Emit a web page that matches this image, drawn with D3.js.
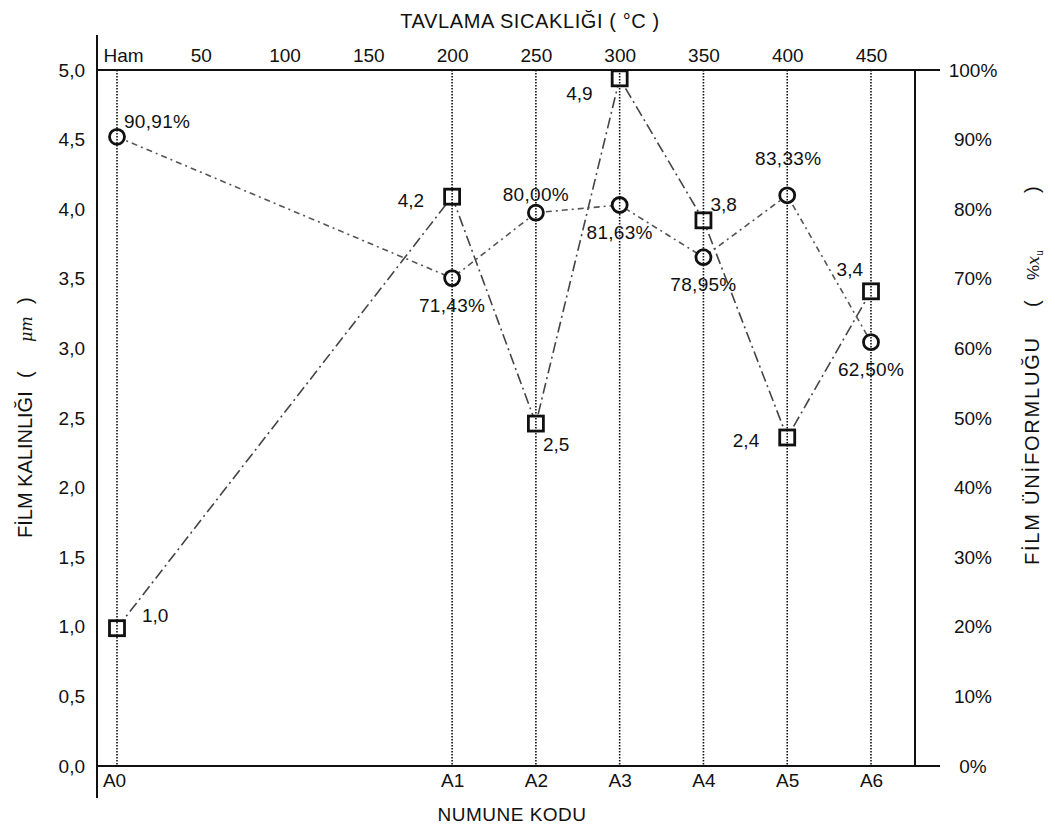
<!DOCTYPE html>
<html>
<head>
<meta charset="utf-8">
<script src="https://cdn.jsdelivr.net/npm/d3@7"></script>
<style>
  body { margin: 0; background: #fff; }
  svg text { font-family: "Liberation Sans", Arial, sans-serif; fill: #111; }
  .title { white-space: pre; }
</style>
</head>
<body>
<svg id="chart" width="1055" height="829"></svg>
<script>
// sample codes and annealing temperatures (0 = raw / "Ham")
const samples = ['A0', 'A1', 'A2', 'A3', 'A4', 'A5', 'A6'];
const temps = [0, 200, 250, 300, 350, 400, 450];

// top axis ticks
const tempTicks = [0, 50, 100, 150, 200, 250, 300, 350, 400, 450];
const tempTickLabels = ['Ham', '50', '100', '150', '200', '250', '300', '350', '400', '450'];

// film thickness (µm) as plotted, and the printed labels
const thickness = [0.99, 4.09, 2.46, 4.94, 3.92, 2.36, 3.41];
const thicknessLabels = ['1,0', '4,2', '2,5', '4,9', '3,8', '2,4', '3,4'];
const thicknessLabelSide = ['e', 'w', 'se', 'sw', 'ne', 'w', 'nw'];

// film uniformity (%) as plotted, and the printed labels
const uniformity = [90.4, 70.1, 79.5, 80.6, 73.1, 82.0, 60.9];
const uniformityLabels = ['90,91%', '71,43%', '80,00%', '81,63%', '78,95%', '83,33%', '62,50%'];
const uniformityLabelSide = ['ne', 's', 'n', 's', 's', 'nn', 's'];

// axis ticks
const leftTicks = [0, 0.5, 1, 1.5, 2, 2.5, 3, 3.5, 4, 4.5, 5];
const rightTicks = [0, 10, 20, 30, 40, 50, 60, 70, 80, 90, 100];

const svg = d3.select('#chart');
const fontSize = 19;

const x = d3.scaleLinear().domain([0, 450]).range([117, 871]);
const yL = d3.scaleLinear().domain([0, 5]).range([766, 70]);
const yR = d3.scaleLinear().domain([0, 100]).range([766, 70]);

const frame = { left: 97, right: 915, ext: 940, top: yL(5), bottom: yL(0) };

// dotted verticals at each sample
const grid = svg.append('g');

// series lines
const thickLine = d3.line().x((d, i) => x(temps[i])).y(d => yL(d));
const uniLine = d3.line().x((d, i) => x(temps[i])).y(d => yR(d));

svg.append('path')
  .datum(thickness)
  .attr('fill', 'none')
  .attr('stroke', '#444')
  .attr('stroke-width', 1.6)
  .attr('stroke-dasharray', '11,4,2,4')
  .attr('d', thickLine);

svg.append('path')
  .datum(uniformity)
  .attr('fill', 'none')
  .attr('stroke', '#555')
  .attr('stroke-width', 1.6)
  .attr('stroke-dasharray', '6,4,2,4')
  .attr('d', uniLine);

// markers
svg.append('g')
  .selectAll('rect')
  .data(thickness)
  .join('rect')
  .attr('x', (d, i) => x(temps[i]) - 7.5)
  .attr('y', d => yL(d) - 7.5)
  .attr('width', 15)
  .attr('height', 15)
  .attr('fill', '#fff')
  .attr('stroke', '#111')
  .attr('stroke-width', 2.8);

svg.append('g')
  .selectAll('circle')
  .data(uniformity)
  .join('circle')
  .attr('cx', (d, i) => x(temps[i]))
  .attr('cy', d => yR(d))
  .attr('r', 7.5)
  .attr('fill', '#fff')
  .attr('stroke', '#111')
  .attr('stroke-width', 2.8);

// dotted lines drawn over markers
grid.raise();
grid.selectAll('line')
  .data(temps)
  .join('line')
  .attr('x1', d => x(d))
  .attr('x2', d => x(d))
  .attr('y1', frame.top)
  .attr('y2', frame.bottom)
  .attr('stroke', '#111')
  .attr('stroke-width', 1.6)
  .attr('stroke-dasharray', '1.5,1.5');

// value labels
const sides = {
  e: { dx: 25, dy: -6, anchor: 'start' },
  ne: { dx: 7, dy: -9, anchor: 'start' },
  w: { dx: -28, dy: 10, anchor: 'end' },
  se: { dx: 7, dy: 27, anchor: 'start' },
  sw: { dx: -27, dy: 22, anchor: 'end' },
  nw: { dx: -8, dy: -15, anchor: 'end' },
  n: { dx: 0, dy: -12, anchor: 'middle' },
  nn: { dx: 1, dy: -30, anchor: 'middle' },
  s: { dx: 0, dy: 34, anchor: 'middle' },
};

svg.append('g')
  .selectAll('text')
  .data(thicknessLabels)
  .join('text')
  .attr('x', (d, i) => x(temps[i]) + sides[thicknessLabelSide[i]].dx)
  .attr('y', (d, i) => yL(thickness[i]) + sides[thicknessLabelSide[i]].dy)
  .attr('text-anchor', (d, i) => sides[thicknessLabelSide[i]].anchor)
  .attr('font-size', fontSize)
  .text(d => d);

svg.append('g')
  .selectAll('text')
  .data(uniformityLabels)
  .join('text')
  .attr('x', (d, i) => x(temps[i]) + sides[uniformityLabelSide[i]].dx)
  .attr('y', (d, i) => yR(uniformity[i]) + sides[uniformityLabelSide[i]].dy)
  .attr('text-anchor', (d, i) => sides[uniformityLabelSide[i]].anchor)
  .attr('font-size', fontSize)
  .attr('letter-spacing', 0.3)
  .text(d => d);

// axes (labels only, frame drawn separately)
const topAxis = svg.append('g')
  .attr('transform', `translate(0,${frame.top})`)
  .call(d3.axisTop(x).tickValues(tempTicks).tickSize(0).tickPadding(8)
    .tickFormat((d, i) => tempTickLabels[i]));

const bottomAxis = svg.append('g')
  .attr('transform', `translate(0,${frame.bottom})`)
  .call(d3.axisBottom(x).tickValues(temps).tickSize(0).tickPadding(8)
    .tickFormat((d, i) => samples[i]));

const leftAxis = svg.append('g')
  .attr('transform', 'translate(85,0)')
  .call(d3.axisLeft(yL).tickValues(leftTicks).tickSize(0).tickPadding(0)
    .tickFormat(d => d3.format('.1f')(d).replace('.', ',')));

const rightAxis = svg.append('g')
  .attr('transform', 'translate(973,0)')
  .call(d3.axisRight(yR).tickValues(rightTicks).tickSize(0).tickPadding(0)
    .tickFormat(d => d + '%'));
rightAxis.selectAll('text').attr('text-anchor', 'middle');

[topAxis, bottomAxis, leftAxis, rightAxis].forEach(g => {
  g.select('.domain').remove();
  g.selectAll('text')
    .attr('font-size', fontSize)
    .attr('font-family', '"Liberation Sans", Arial, sans-serif')
    .attr('fill', '#111');
});
topAxis.selectAll('.tick').filter((d, i) => i === 0).select('text').attr('dx', 6);
bottomAxis.selectAll('.tick').filter((d, i) => i === 0).select('text').attr('dx', -3);

// frame
const frameG = svg.append('g').attr('stroke', '#111').attr('stroke-width', 2);
frameG.append('line')
  .attr('x1', frame.left).attr('x2', frame.left).attr('y1', 35).attr('y2', 798);
frameG.append('line')
  .attr('x1', frame.left).attr('x2', frame.ext).attr('y1', frame.top).attr('y2', frame.top);
frameG.append('line')
  .attr('x1', frame.left).attr('x2', frame.ext).attr('y1', frame.bottom).attr('y2', frame.bottom);
frameG.append('line')
  .attr('x1', frame.right).attr('x2', frame.right).attr('y1', frame.top).attr('y2', frame.bottom);

// axis titles
svg.append('text')
  .attr('class', 'title')
  .attr('x', 530).attr('y', 28)
  .attr('text-anchor', 'middle')
  .attr('font-size', 20)
  .attr('letter-spacing', 0.6)
  .text('TAVLAMA SICAKLIĞI ( °C )');

svg.append('text')
  .attr('x', 512).attr('y', 821)
  .attr('text-anchor', 'middle')
  .attr('font-size', 19)
  .attr('letter-spacing', 0.5)
  .text('NUMUNE KODU');

// left title, read bottom-up from y = 538
const leftTitle = svg.append('text')
  .attr('transform', 'translate(32,538) rotate(-90)')
  .attr('font-size', 20);
leftTitle.append('tspan').attr('x', 0).text('FİLM KALINLIĞI');
leftTitle.append('tspan').attr('x', 160).text('(');
leftTitle.append('tspan').attr('x', 196).attr('font-style', 'italic')
  .attr('font-family', '"DejaVu Serif", serif').attr('font-size', 16).text('μm');
leftTitle.append('tspan').attr('x', 234).text(')');

// right title, read bottom-up from y = 565
const rightTitle = svg.append('text')
  .attr('transform', 'translate(1039,565) rotate(-90)')
  .attr('font-size', 20);
rightTitle.append('tspan').attr('x', 0).attr('letter-spacing', 1.8).text('FİLM ÜNİFORMLUĞU');
rightTitle.append('tspan').attr('x', 258).text('(');
rightTitle.append('tspan').attr('x', 285).attr('font-size', 17).text('%');
rightTitle.append('tspan').attr('font-style', 'italic')
  .attr('font-family', '"DejaVu Serif", serif').attr('font-size', 16).text('x');
rightTitle.append('tspan').attr('font-size', 10).attr('dy', 4).text('u');
rightTitle.append('tspan').attr('x', 372).attr('dy', -4).text(')');
</script>
</body>
</html>
